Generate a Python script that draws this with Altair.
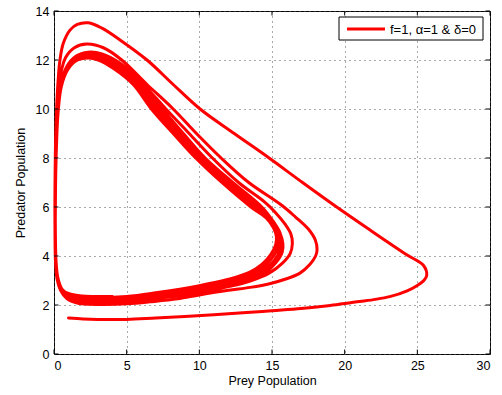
import altair as alt
import pandas as pd

# Prey / predator phase trajectory, one list pair per sweep round the cycle
loop0_prey = [1.0, 2.0, 3.0, 5.0, 7.0, 9.0, 11.0, 13.0, 15.0, 17.0, 19.0, 20.5, 22.0, 23.1, 24.3,
              25.0, 25.45, 25.65, 25.4, 24.3, 21.75, 19.45, 17.1, 14.8, 12.4, 10.05, 8.2, 6.4,
              4.54, 3.3, 2.36, 1.6, 1.1, 0.64, 0.41, 0.3, 0.2, 0.12, 0.08, 0.06, 0.07, 0.1, 0.2,
              0.45, 0.9, 1.6, 2.5]
loop0_pred = [1.47, 1.43, 1.41, 1.41, 1.47, 1.53, 1.6, 1.68, 1.77, 1.86, 1.98, 2.1, 2.22, 2.34, 2.58,
              2.8, 3.0, 3.22, 3.63, 4.04, 5.06, 6.0, 7.0, 8.0, 9.0, 10.0, 11.0, 12.0,
              12.82, 13.3, 13.52, 13.45, 13.22, 12.68, 12.0, 11.3, 10.3, 9.0, 7.5, 6.0, 4.8, 3.8, 3.1,
              2.6, 2.25, 2.08, 2.03]

loop1_prey = [3.5, 5.0, 6.6, 8.5, 10.0, 12.0, 13.5, 14.9, 16.0, 16.9, 17.6, 18.0, 18.1, 17.98,
              17.5, 16.6, 15.6, 13.4, 11.5, 9.8, 8.2, 6.4, 4.66, 3.4, 2.25, 1.4, 0.8, 0.45, 0.25,
              0.15, 0.1, 0.08, 0.09, 0.13, 0.25, 0.5, 1.0, 1.8, 2.8]
loop1_pred = [2.02, 2.05, 2.13, 2.25, 2.41, 2.6, 2.72, 2.88, 3.07, 3.29, 3.65, 4.0, 4.25, 4.65,
              5.1, 5.6, 6.1, 7.0, 8.0, 9.0, 10.0, 11.0, 12.0, 12.5, 12.65, 12.5, 12.1, 11.4, 10.4,
              9.0, 7.5, 6.0, 4.8, 3.8, 3.1, 2.65, 2.35, 2.17, 2.12]

loop2_prey = [5.0, 7.0, 10.0, 12.0, 13.5, 14.8, 15.7, 16.25, 16.4, 16.3, 15.9, 15.2, 14.5, 12.7,
              10.9, 9.3, 7.7, 6.15, 4.6, 3.3, 2.35, 1.5, 0.9, 0.5, 0.28, 0.17, 0.11, 0.09, 0.1,
              0.14, 0.27, 0.55, 1.1, 1.9, 2.8]
loop2_pred = [2.15, 2.27, 2.5, 2.75, 2.98, 3.3, 3.7, 4.1, 4.5, 4.9, 5.3, 5.8, 6.2, 7.0,
              8.0, 9.0, 10.0, 11.0, 11.85, 12.25, 12.32, 12.15, 11.75, 11.1, 10.1, 8.8, 7.3, 5.9, 4.7,
              3.8, 3.1, 2.65, 2.38, 2.23, 2.18]

loop3_prey = [5.0, 7.0, 10.0, 12.0, 13.5, 14.6, 15.3, 15.7, 15.75, 15.55, 15.1, 14.3, 12.3, 10.4,
              8.9, 7.45, 6.0, 4.4, 3.2, 2.35, 1.5, 0.9, 0.5, 0.28, 0.17, 0.11, 0.09, 0.1, 0.15,
              0.28, 0.55, 1.1, 1.9, 2.8]
loop3_pred = [2.2, 2.3, 2.52, 2.75, 3.0, 3.35, 3.75, 4.15, 4.5, 4.95, 5.4, 6.0, 7.0, 8.0,
              9.0, 10.0, 11.0, 11.8, 12.15, 12.22, 12.08, 11.7, 11.05, 10.0, 8.7, 7.2, 5.8, 4.6, 3.7,
              3.05, 2.65, 2.4, 2.27, 2.22]

loop4_prey = [5.0, 7.0, 10.0, 12.0, 13.5, 14.5, 15.2, 15.55, 15.6, 15.4, 14.95, 14.05, 12.05, 10.15,
              8.7, 7.2, 5.8, 4.3, 3.15, 2.35, 1.5, 0.9, 0.5, 0.28, 0.17, 0.11, 0.09, 0.1, 0.15,
              0.29, 0.57, 1.1, 1.9, 2.8]
loop4_pred = [2.25, 2.36, 2.61, 2.85, 3.1, 3.45, 3.85, 4.25, 4.6, 5.0, 5.45, 6.0, 7.0, 8.0,
              9.0, 10.0, 11.0, 11.75, 12.1, 12.17, 12.03, 11.65, 11.0, 9.95, 8.6, 7.1, 5.7, 4.55, 3.65,
              3.0, 2.62, 2.42, 2.3, 2.27]

loop5_prey = [5.0, 7.0, 10.0, 12.0, 13.45, 14.4, 15.05, 15.4, 15.45, 15.25, 14.8, 13.8, 11.8, 9.95,
              8.45, 6.95, 5.6, 4.2, 3.1, 2.35, 1.5, 0.9, 0.5, 0.28, 0.17, 0.11, 0.09, 0.1, 0.15,
              0.3, 0.58, 1.1, 1.9, 2.8]
loop5_pred = [2.3, 2.43, 2.7, 2.95, 3.2, 3.55, 3.95, 4.35, 4.7, 5.05, 5.5, 6.0, 7.0, 8.0,
              9.0, 10.0, 11.0, 11.7, 12.05, 12.13, 12.0, 11.6, 10.95, 9.9, 8.55, 7.05, 5.65, 4.5, 3.6,
              2.98, 2.6, 2.44, 2.34, 2.31]

loop6_prey = [5.0, 7.0, 10.0, 12.0, 13.4, 14.3, 14.9, 15.25, 15.3, 15.1, 14.6, 13.55, 11.55, 9.75,
              8.2, 6.7, 5.45, 4.1, 3.05, 2.35, 1.5, 0.9, 0.5, 0.28, 0.17, 0.11, 0.09, 0.1, 0.15,
              0.3, 0.6, 1.1, 1.9, 2.8, 4.0]
loop6_pred = [2.35, 2.5, 2.79, 3.05, 3.32, 3.66, 4.05, 4.45, 4.8, 5.15, 5.55, 6.0, 7.0, 8.0,
              9.0, 10.0, 11.0, 11.65, 12.0, 12.08, 11.96, 11.56, 10.9, 9.85, 8.5, 7.0, 5.6, 4.45, 3.55,
              2.95, 2.6, 2.45, 2.37, 2.35, 2.35]

series_name = "f=1, \u03b1=1 & \u03b4=0"
x_ticks = [0, 5, 10, 15, 20, 25, 30]
y_ticks = [0, 2, 4, 6, 8, 10, 12, 14]

W, H = 436, 343
FONT = "Liberation Sans"
RED = "#ff0000"

rows = []
step = 0
for xs, ys in [(loop0_prey, loop0_pred), (loop1_prey, loop1_pred), (loop2_prey, loop2_pred),
               (loop3_prey, loop3_pred), (loop4_prey, loop4_pred), (loop5_prey, loop5_pred),
               (loop6_prey, loop6_pred)]:
    for px, py in zip(xs, ys):
        rows.append({"step": step, "prey": px, "pred": py})
        step += 1
traj = pd.DataFrame(rows)

xscale = alt.Scale(domain=[0, 30], nice=False, zero=False)
yscale = alt.Scale(domain=[0, 14], nice=False, zero=False)

grid_style = dict(grid=True, gridDash=[1, 4], gridColor="#555", gridWidth=1)
text_style = dict(labelFont=FONT, labelFontSize=12.5, labelColor="black", labelPadding=5,
                  titleFont=FONT, titleFontSize=12.5, titleFontWeight="normal", titleColor="black")

xaxis = alt.Axis(values=x_ticks, ticks=False, domain=False, title="Prey Population",
                 titlePadding=3, **grid_style, **text_style)
yaxis = alt.Axis(values=y_ticks, ticks=False, domain=False, title="Predator Population",
                 titlePadding=8, **grid_style, **text_style)

curve = alt.Chart(traj).mark_line(
    color=RED, strokeWidth=3, strokeJoin="round", strokeCap="round", interpolate="catmull-rom"
).encode(
    x=alt.X("prey:Q", scale=xscale, axis=xaxis),
    y=alt.Y("pred:Q", scale=yscale, axis=yaxis),
    order="step:Q",
)

# inward tick marks on all four sides of the box
xt = pd.DataFrame({"v": x_ticks})
yt = pd.DataFrame({"v": y_ticks})
tl = 4.5
xb = alt.Chart(xt).mark_rule(color="black", strokeWidth=1).encode(
    x=alt.X("v:Q", scale=xscale), y=alt.value(H), y2=alt.value(H - tl))
xtop = alt.Chart(xt).mark_rule(color="black", strokeWidth=1).encode(
    x=alt.X("v:Q", scale=xscale), y=alt.value(0), y2=alt.value(tl))
yl = alt.Chart(yt).mark_rule(color="black", strokeWidth=1).encode(
    y=alt.Y("v:Q", scale=yscale), x=alt.value(0), x2=alt.value(tl))
yr = alt.Chart(yt).mark_rule(color="black", strokeWidth=1).encode(
    y=alt.Y("v:Q", scale=yscale), x=alt.value(W), x2=alt.value(W - tl))

# legend box in the upper right corner
leg = pd.DataFrame({"label": [series_name]})
leg_box = alt.Chart(leg).mark_rect(fill="white", stroke="black", strokeWidth=1).encode(
    x=alt.value(285), x2=alt.value(429), y=alt.value(6), y2=alt.value(29))
leg_line = alt.Chart(leg).mark_rule(color=RED, strokeWidth=3).encode(
    x=alt.value(293), x2=alt.value(331), y=alt.value(18))
leg_text = alt.Chart(leg).mark_text(
    align="left", baseline="middle", font=FONT, fontSize=13, color="black"
).encode(x=alt.value(336), y=alt.value(18.5), text="label:N")

chart = alt.layer(curve, xb, xtop, yl, yr, leg_box, leg_line, leg_text).properties(
    width=W, height=H,
    autosize=alt.AutoSizeParams(type="none"),
    padding={"left": 54, "top": 11, "right": 12, "bottom": 41},
    background="white",
).configure_view(stroke="black", strokeWidth=1)

chart.save("out.html", embed_options={"renderer": "svg", "actions": False})
